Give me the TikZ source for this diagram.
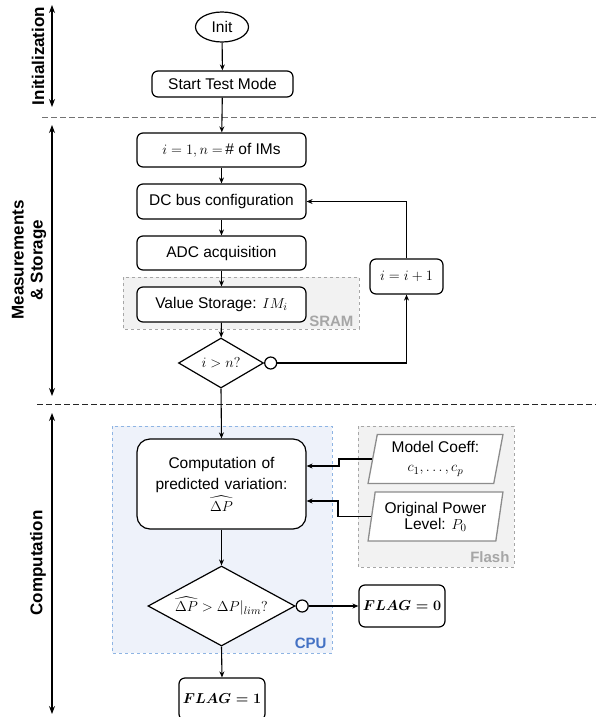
\documentclass[tikz,border=0pt]{standalone}
\usepackage{amsmath,amssymb}
\usepackage{fontspec}
\setmainfont{Liberation Sans}
\usetikzlibrary{shapes.geometric,arrows.meta,calc}
\definecolor{cpufill}{HTML}{EEF2FA}
\definecolor{cpuline}{HTML}{8EB4E3}
\definecolor{cputext}{HTML}{4472C4}
\definecolor{memfill}{HTML}{F2F2F2}
\definecolor{memline}{HTML}{A6A6A6}
\definecolor{memtext}{HTML}{A6A6A6}
\definecolor{paraline}{HTML}{8C8C8C}
\begin{document}
\begin{tikzpicture}[x=1pt,y=-1pt,
  font=\fontsize{15.5}{19}\selectfont,
  box/.style={draw, line width=1.2pt, rounded corners=6pt, fill=white, align=center,
    minimum width=169pt, minimum height=34pt, inner sep=2pt},
  arr/.style={-{Stealth[length=6pt,width=5pt]}, line width=1.1pt},
  dbl/.style={{Stealth[length=8pt,width=6pt]}-{Stealth[length=8pt,width=6pt]}, line width=1.1pt},
  sep/.style={dashed, dash pattern=on 6pt off 3pt, line width=0.9pt},
  dec/.style={draw, diamond, line width=1.2pt, fill=white, inner sep=0pt},
  nocirc/.style={draw, circle, line width=1.2pt, fill=white, minimum size=12pt, inner sep=0pt},
  para/.style={draw=paraline, trapezium, trapezium left angle=79, trapezium right angle=101,
    trapezium stretches=true, minimum width=135pt, minimum height=49pt, line width=1.3pt,
    fill=white, align=center, inner sep=1pt},
  side/.style={font=\fontsize{17}{19}\selectfont\bfseries, rotate=90, align=center},
  memlabel/.style={font=\fontsize{15}{17}\selectfont\bfseries, text=memtext}
]
\useasboundingbox (0,0) rectangle (596,717);

% region backgrounds
\path[fill=memfill, draw=memline, dashed, line width=0.8pt] (123,277) rectangle (359,329);
\path[fill=cpufill, draw=cpuline, dashed, line width=0.8pt] (112,426) rectangle (332,653);
\path[fill=memfill, draw=memline, dashed, line width=0.8pt] (358,426) rectangle (514,567);
\node[memlabel, anchor=south east] (sramlbl) at (357,330) {SRAM};
\node[memlabel, text=cputext, anchor=south east] (cpulbl) at (330,652) {CPU};
\node[memlabel, anchor=south east] (flashlbl) at (513,566) {Flash};

% separators
\coordinate (s1a) at (42,117); \coordinate (s1b) at (596,117);
\coordinate (s2a) at (37,404); \coordinate (s2b) at (596,404);
\draw[sep, black!55] (s1a) -- (s1b);
\draw[sep, black!85] (s2a) -- (s2b);

% side arrows and labels
\coordinate (a1t) at (52,5);   \coordinate (a1b) at (52,107);
\coordinate (a2t) at (52,125); \coordinate (a2b) at (52,396);
\coordinate (a3t) at (52,413); \coordinate (a3b) at (52,714);
\draw[dbl] (a1t) -- (a1b);
\draw[dbl] (a2t) -- (a2b);
\draw[dbl] (a3t) -- (a3b);
\node[side] (lab1) at (38,56) {Initialization};
\node[side] (lab2) at (29,260) {Measurements\\\& Storage};
\node[side] (lab3) at (38,563) {Computation};

% nodes
\node[draw, ellipse, line width=1.2pt, minimum width=53pt, minimum height=30pt, inner sep=0pt] (init) at (222,27) {Init};
\node[box, minimum width=141pt, minimum height=26pt] (start) at (222.5,84) {Start Test Mode};
\node[box] (im) at (221.5,150) {$i = 1, n =$\,\# of IMs};
\node[box, minimum height=35pt] (dc) at (221.5,201.5) {DC bus configuration};
\node[box] (adc) at (221.5,253) {ADC acquisition};
\node[box, minimum height=35pt] (val) at (221.5,304.5) {Value Storage: $IM_i$};
\node[dec, aspect=1.7, minimum width=85pt, minimum height=50pt] (d1) at (221,363) {$i > n?$};
\node[nocirc, anchor=west] (c1) at (d1.east) {};
\node[box, minimum width=73pt, minimum height=35pt] (inc) at (406.5,276.5) {$i = i + 1$};

\node[box, rounded corners=13pt, minimum height=90pt, text width=160pt,
      font=\fontsize{15.5}{21}\selectfont] (comp) at (221.5,484)
  {Computation of\\predicted variation:\\[1pt]$\widehat{\Delta P}$};
\node[para] (m1) at (435.5,459) {Model Coeff:\\$c_1, \dots, c_p$};
\node[para] (m2) at (435.5,516.5) {Original Power\\[-3pt]Level: $P_0$};
\node[dec, aspect=1.84, minimum width=147pt, minimum height=80pt] (d2) at (221.5,606) {$\widehat{\Delta P} > \Delta P|_{lim}?$};
\node[nocirc, anchor=west] (c2) at (d2.east) {};
\node[box, minimum width=86pt, minimum height=42pt] (f0) at (402,606) {$\boldsymbol{FLAG = 0}$};
\node[box, minimum width=86pt, minimum height=42pt] (f1) at (222,699) {$\boldsymbol{FLAG = 1}$};

% connectors
\draw[arr] (init) -- (start);
\draw[arr] (start) -- (im);
\draw[arr] (im) -- (dc);
\draw[arr] (dc) -- (adc);
\draw[arr] (adc) -- (val);
\draw[arr] (val) -- (d1);
\draw[arr] (c1.east) -| (inc.south);
\draw[arr] (inc.north) |- (dc.east);
\draw[arr] (d1.south) -- (comp.north);
\draw[arr] (m1.west) -- ++(-33,0) |- ($(comp.east)+(0,-18)$);
\draw[arr] (m2.west) -- ++(-33,0) |- ($(comp.east)+(0,17)$);
\draw[arr] (comp) -- (d2);
\draw[arr] (c2.east) -- (f0.west);
\draw[arr] (d2.south) -- (f1.north);
\end{tikzpicture}
\end{document}
